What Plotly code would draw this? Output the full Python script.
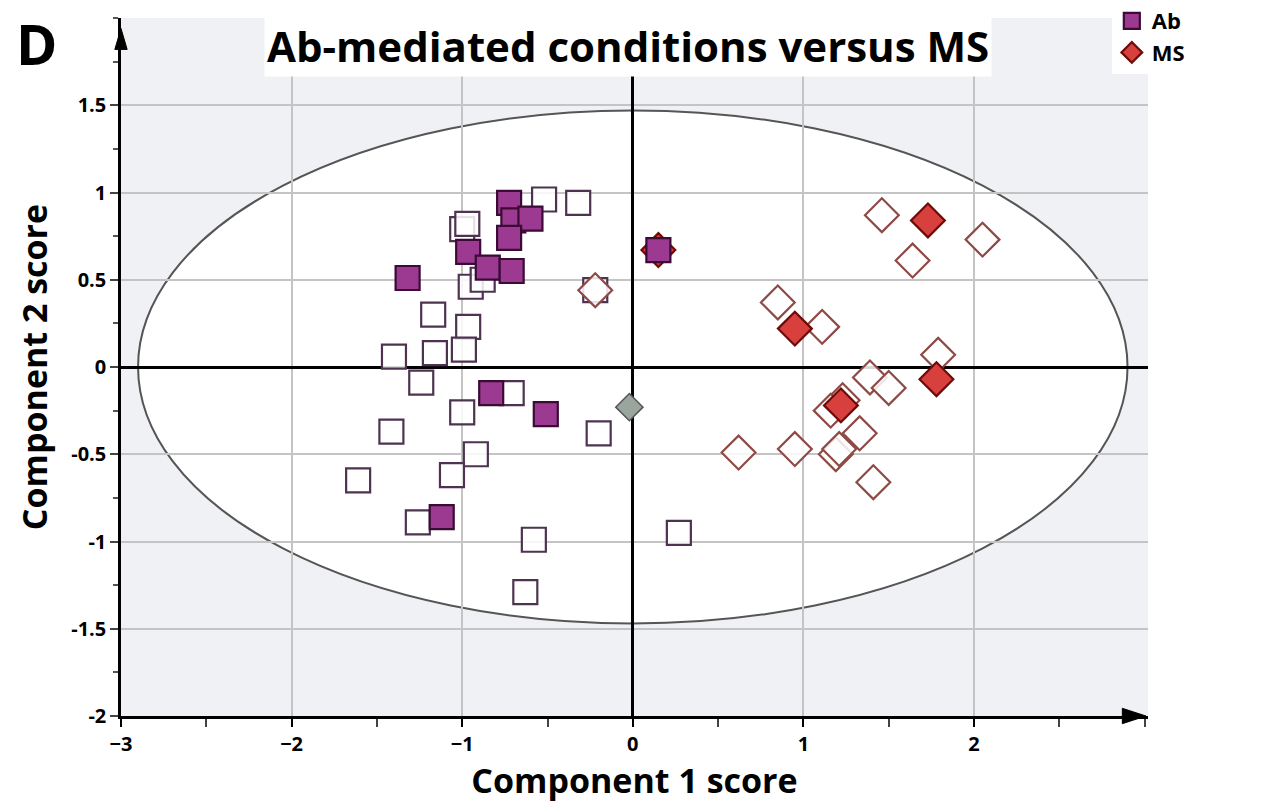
import plotly.graph_objects as go

# Component scores, Ab-mediated samples (filled = highlighted, open = others)
ab_filled_x = [-0.725, -0.70, -0.60, -0.725, -0.965, -0.85, -0.71, -1.32, -0.83, -0.51, -1.12, 0.15]
ab_filled_y = [0.94, 0.84, 0.85, 0.74, 0.66, 0.57, 0.55, 0.51, -0.15, -0.27, -0.86, 0.67]
ab_open_x = [-0.52, -0.32, -1.00, -0.97, -0.95, -0.88, -1.17, -0.965, -1.40, -1.16, -0.99, -1.24,
             -0.71, -1.00, -1.415, -0.20, -0.92, -1.06, -1.61, -1.26, -0.58, -0.63, 0.27, -0.22]
ab_open_y = [0.96, 0.94, 0.79, 0.82, 0.46, 0.50, 0.30, 0.23, 0.06, 0.08, 0.10, -0.09,
             -0.15, -0.26, -0.37, -0.38, -0.50, -0.62, -0.65, -0.89, -0.99, -1.29, -0.95, 0.44]

# Component scores, MS samples
ms_filled_x = [1.73, 0.95, 1.22, 1.78, 0.15]
ms_filled_y = [0.84, 0.22, -0.22, -0.07, 0.67]
ms_open_x = [1.46, 2.05, 1.64, 0.85, 1.11, 1.79, 1.39, 1.50, 1.23, 1.16, 1.33, 0.62, 0.95, 1.19, 1.21, 1.41, -0.22]
ms_open_y = [0.87, 0.73, 0.61, 0.37, 0.23, 0.07, -0.06, -0.12, -0.19, -0.25, -0.38, -0.49, -0.47, -0.50, -0.47, -0.66, 0.44]

# Reference sample
ref_x = [-0.02]
ref_y = [-0.23]

# Hotelling T2 ellipse half-axes
ellipse_rx = 2.9
ellipse_ry = 1.47

x_ticks = [-3, -2, -1, 0, 1, 2]
y_ticks = [-2, -1.5, -1, -0.5, 0, 0.5, 1, 1.5]
y_tick_text = ["-2", "-1.5", "-1", "-0.5", "0", "0.5", "1", "1.5"]

AB_FILL = "#9b3a90"
AB_EDGE = "#3b0b36"
AB_OPEN_EDGE = "#4d3350"
MS_FILL = "#d8403e"
MS_EDGE = "#6e0a08"
MS_OPEN_EDGE = "#8e4a45"

SQ = 24
DM = 26

fig = go.Figure()

fig.add_trace(go.Scatter(
    x=ab_open_x, y=ab_open_y, mode="markers", showlegend=False, hoverinfo="skip",
    marker=dict(symbol="square", size=SQ, color="rgba(255,255,255,0.85)",
                line=dict(color=AB_OPEN_EDGE, width=2.2))))
fig.add_trace(go.Scatter(
    x=ms_open_x, y=ms_open_y, mode="markers", showlegend=False, hoverinfo="skip",
    marker=dict(symbol="diamond", size=DM, color="rgba(255,255,255,0.85)",
                line=dict(color=MS_OPEN_EDGE, width=2.2))))
fig.add_trace(go.Scatter(
    x=ms_filled_x, y=ms_filled_y, mode="markers", name="MS", legendrank=2,
    marker=dict(symbol="diamond", size=DM, color=MS_FILL,
                line=dict(color=MS_EDGE, width=2.2))))
fig.add_trace(go.Scatter(
    x=ab_filled_x, y=ab_filled_y, mode="markers", name="Ab", legendrank=1,
    marker=dict(symbol="square", size=SQ, color=AB_FILL,
                line=dict(color=AB_EDGE, width=2.2))))
fig.add_trace(go.Scatter(
    x=ref_x, y=ref_y, mode="markers", showlegend=False,
    marker=dict(symbol="diamond", size=21, color="#9aa59e",
                line=dict(color="#555555", width=1.5))))

# Ellipse (white inside, under the grid)
fig.add_shape(type="circle", xref="x", yref="y",
              x0=-ellipse_rx, x1=ellipse_rx, y0=-ellipse_ry, y1=ellipse_ry,
              fillcolor="white", line=dict(color="#555555", width=2), layer="below")

# Axis arrowheads
fig.add_shape(type="path", xref="paper", yref="paper",
              path="M -0.006 0.955 L 0.006 0.955 L 0 0.985 Z",
              fillcolor="black", line=dict(color="black", width=1))
fig.add_shape(type="path", xref="paper", yref="paper",
              path="M 0.975 0.011 L 0.975 -0.011 L 0.998 0 Z",
              fillcolor="black", line=dict(color="black", width=1))

axis_font = dict(family="Open Sans", size=20, color="black", weight="bold")

fig.update_layout(
    width=1262, height=811,
    margin=dict(l=121, r=114, t=18, b=95, autoexpand=False),
    paper_bgcolor="white",
    plot_bgcolor="#eff1f4",
    font=dict(family="Open Sans", color="black"),
    showlegend=True,
    legend=dict(xref="container", yref="container", x=0.881, y=1.004, xanchor="left", yanchor="top",
                bgcolor="white", font=dict(size=22, weight="bold", family="Open Sans"),
                itemsizing="trace", tracegroupgap=0, traceorder="normal",
                itemwidth=30),
    xaxis=dict(range=[-3, 3.02], tickvals=x_ticks, showgrid=True, gridcolor="#c4c4c4", gridwidth=1.5,
               zeroline=True, zerolinecolor="black", zerolinewidth=2.5,
               showline=True, linecolor="black", linewidth=2.5,
               ticks="outside", ticklen=8, tickwidth=2, tickcolor="black",
               minor=dict(dtick=0.5, ticks="outside", ticklen=8, tickwidth=2, tickcolor="#444", showgrid=False),
               tickfont=axis_font,
               title=dict(text="Component 1 score", font=dict(family="Open Sans", size=34, weight="bold"),
                          standoff=14)),
    yaxis=dict(range=[-2, 2.0], tickvals=y_ticks, ticktext=y_tick_text, showgrid=True,
               gridcolor="#c4c4c4", gridwidth=1.5,
               zeroline=True, zerolinecolor="black", zerolinewidth=2.5,
               showline=True, linecolor="black", linewidth=2.5,
               ticks="outside", ticklen=8, tickwidth=2, tickcolor="#444",
               minor=dict(dtick=0.25, ticks="outside", ticklen=5, tickwidth=2, tickcolor="#555", showgrid=False),
               tickfont=axis_font,
               title=dict(text="Component 2 score", font=dict(family="Open Sans", size=34, weight="bold"),
                          standoff=14)),
    annotations=[
        dict(text="Ab-mediated conditions versus MS", xref="paper", yref="paper",
             x=0.494, y=1.006, xanchor="center", yanchor="top", showarrow=False,
             bgcolor="white", borderpad=2,
             font=dict(family="Open Sans", size=42, weight="bold", color="black")),
        dict(text="D", xref="paper", yref="paper", x=-0.104, y=1.022, xanchor="left", yanchor="top",
             showarrow=False, font=dict(family="Open Sans", size=56, weight="bold", color="black")),
    ],
)

fig.write_html("out.html")
